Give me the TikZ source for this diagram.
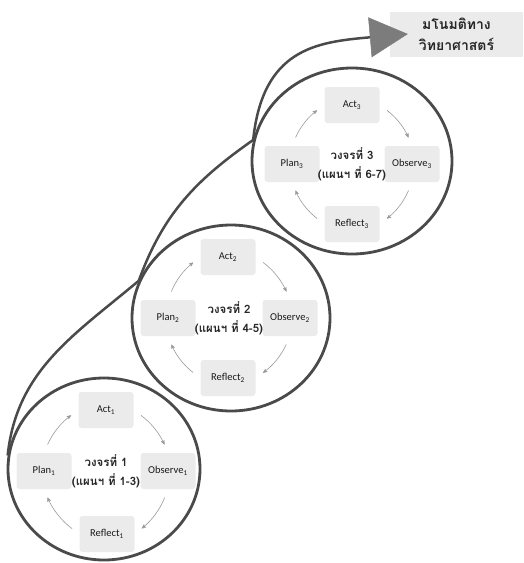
\documentclass[tikz,border=0pt]{standalone}
\usepackage{fontspec}
\setmainfont{Carlito}
\newfontfamily\thaifont[Script=Thai]{Loma}
\usepackage{xcolor}
\usepackage{tikz}
\usetikzlibrary{arrows,arrows.meta,shapes.geometric}
\definecolor{ringgray}{HTML}{4A4A4A}
\definecolor{boxgray}{HTML}{EBEBEB}
\definecolor{flowgray}{HTML}{9A9A9A}
\definecolor{headgray}{HTML}{7C7C7C}

\begin{document}
\begin{tikzpicture}[x=1pt,y=1pt,
  ring/.style={ellipse,draw=ringgray,line width=2.8pt,inner sep=0pt},
  phase/.style={fill=boxgray,rounded corners=3pt,minimum width=55pt,minimum height=36pt,
    font=\fontsize{10.5}{12}\selectfont,text=black!90},
  centre/.style={align=center,font=\thaifont\bfseries\fontsize{11.5}{19}\selectfont,text=black!85},
  goal/.style={fill=boxgray,minimum width=133pt,minimum height=45pt,align=center,
    font=\thaifont\bfseries\fontsize{14}{21}\selectfont,text=black!85},
  coil/.style={draw=ringgray,line width=2.5pt},
  flow/.style={color=flowgray,line width=0.6pt,shorten >=9pt,shorten <=9pt}]
\useasboundingbox (0,0) rectangle (523,-563);

% the three rings
\node[ring, minimum width=192pt, minimum height=182pt] (L1) at (104,-469) {};
\node[ring, minimum width=198pt, minimum height=186pt] (L2) at (231,-318) {};
\node[ring, minimum width=200pt, minimum height=186pt] (L3) at (352,-161) {};

% cycle 1
\node[phase] (A1) at (106,-410) {Act\textsubscript{1}};
\node[phase] (P1) at (44,-471)  {Plan\textsubscript{1}};
\node[phase] (O1) at (168,-471) {Observe\textsubscript{1}};
\node[phase] (R1) at (107,-534) {Reflect\textsubscript{1}};
\node[centre] (K1) at (106,-471) {วงจรที่ 1\\(แผนฯ ที่ 1-3)};

% cycle 2
\node[phase] (A2) at (228,-257) {Act\textsubscript{2}};
\node[phase] (P2) at (168,-318) {Plan\textsubscript{2}};
\node[phase] (O2) at (290,-318) {Observe\textsubscript{2}};
\node[phase] (R2) at (228,-378) {Reflect\textsubscript{2}};
\node[centre] (K2) at (229,-318) {วงจรที่ 2\\(แผนฯ ที่ 4-5)};

% cycle 3
\node[phase] (A3) at (352,-105) {Act\textsubscript{3}};
\node[phase] (P3) at (292,-164) {Plan\textsubscript{3}};
\node[phase] (O3) at (412,-164) {Observe\textsubscript{3}};
\node[phase] (R3) at (352,-224) {Reflect\textsubscript{3}};
\node[centre] (K3) at (352,-164) {วงจรที่ 3\\(แผนฯ ที่ 6-7)};

\node[goal] (T) at (456.5,-34) {มโนมติทาง\\วิทยาศาสตร์};

\path[flow,->,>=stealth']
  (P1.north) edge[bend left=15] (A1.west)
  (A1.east)  edge[bend left=15] (O1.north)
  (O1.south) edge[bend left=15] (R1.east)
  (R1.west)  edge[bend left=15] (P1.south)
  (P2.north) edge[bend left=15] (A2.west)
  (A2.east)  edge[bend left=15] (O2.north)
  (O2.south) edge[bend left=15] (R2.east)
  (R2.west)  edge[bend left=15] (P2.south)
  (P3.north) edge[bend left=15] (A3.west)
  (A3.east)  edge[bend left=15] (O3.north)
  (O3.south) edge[bend left=15] (R3.east)
  (R3.west)  edge[bend left=15] (P3.south);

% spiral from ring to ring
\draw[coil] (L1.172) to[out=84,in=220] (L2.158);
\draw[coil] (L2.158) to[out=70,in=215] (L3.168);
\draw[coil,-{Triangle[length=38pt,width=40pt,line width=0.5pt,fill=headgray,color=headgray]}]
  (L3.168) to[out=84,in=185,looseness=1.25] ([xshift=18pt]T.west);
\end{tikzpicture}
\end{document}
